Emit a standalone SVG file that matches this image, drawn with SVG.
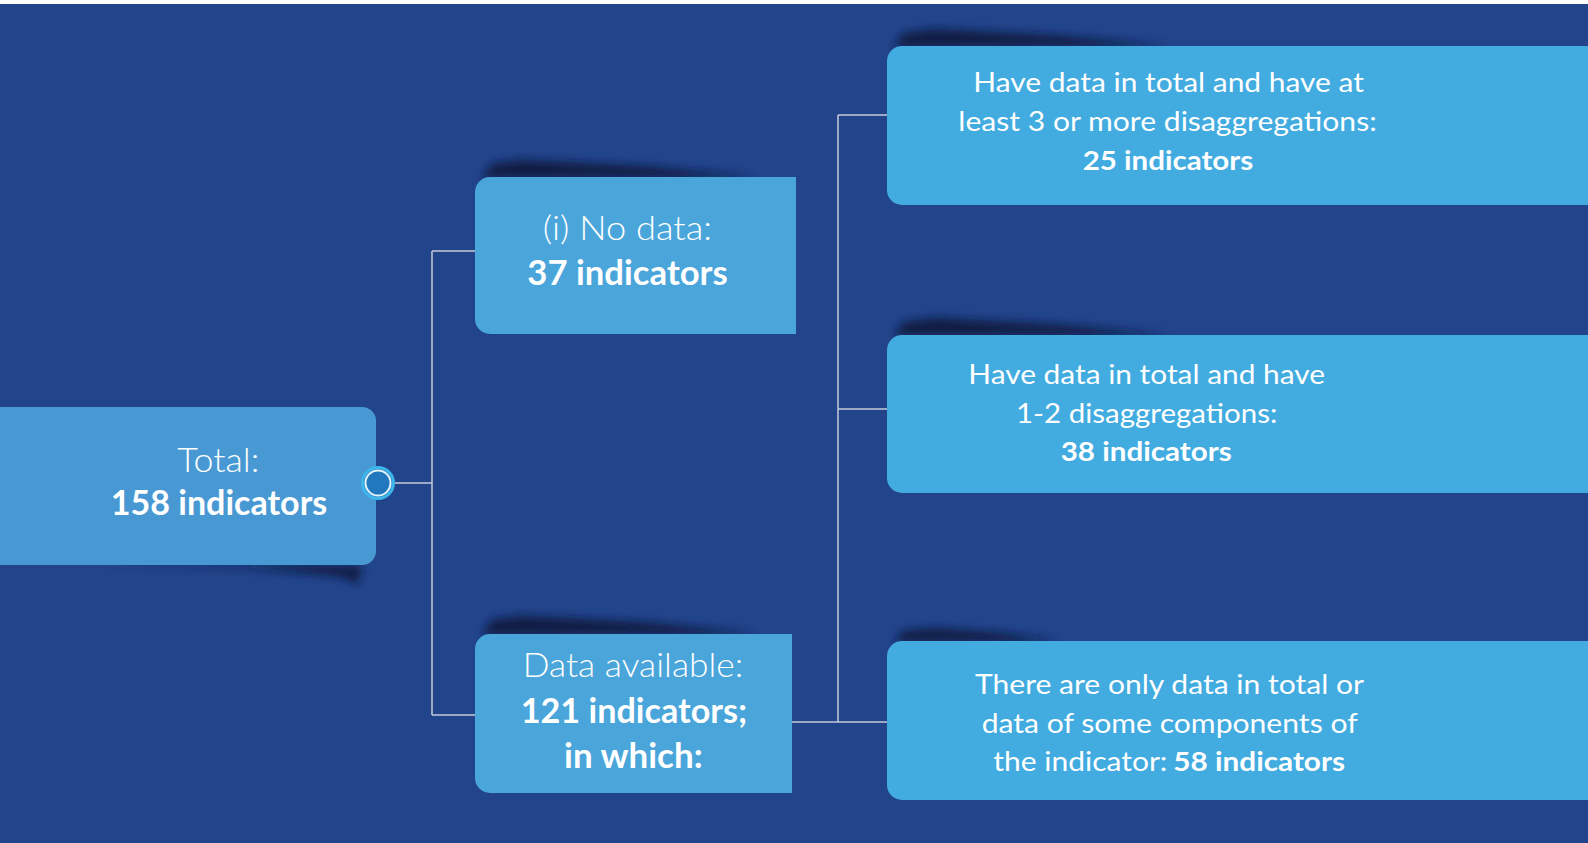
<svg xmlns="http://www.w3.org/2000/svg" width="1588" height="843" viewBox="0 0 1588 843">
  <defs>
    <filter id="sh" x="-20%" y="-200%" width="140%" height="500%">
      <feGaussianBlur stdDeviation="4"/>
    </filter>
    <style>
      .bg{fill:#22448a}
      .tot{fill:#4899d3}
      .mid{fill:#4aa5da}
      .leaf{fill:#42abdf}
      .shadow{fill:#0b1838;opacity:0.85;filter:url(#sh)}
      .conn{fill:none;stroke:#c3cadb;stroke-width:1.5}
      text{font-family:Lato,"Open Sans","Liberation Sans",sans-serif;fill:#ffffff}
      .big{font-size:34px}
      .sm{font-size:27px;font-weight:400}
      .lt{font-weight:300}
      .b{font-weight:700}
    </style>
  </defs>

  <rect x="0" y="0" width="1588" height="843" class="bg"/>
  <rect x="0" y="0" width="1588" height="4" fill="#ffffff"/>

  <g id="connectors">
    <path class="conn" d="M393,483 H432 M432,251 V715 M432,251 H475 M432,715 H475"/>
    <path class="conn" d="M792,722 H887 M838,115 V722 M838,115 H887 M838,409 H887"/>
  </g>

  <g id="node-total">
    <polygon class="shadow" points="100,565 250,568 340,576 358,584 362,566"/>
    <path class="tot" d="M-20,407 H362 A14,14 0 0 1 376,421 V551 A14,14 0 0 1 362,565 H-20 Z"/>
    <circle cx="378" cy="483" r="15.5" fill="#2a7bc2" stroke="#3cb6ea" stroke-width="3"/>
    <circle cx="378" cy="483" r="12.5" fill="#2278bd" stroke="#e2f5fd" stroke-width="2"/>
    <text class="big lt" x="177.3" y="471.7" textLength="82" lengthAdjust="spacingAndGlyphs">Total:</text>
    <text class="big b" x="110.7" y="515" textLength="216.6" lengthAdjust="spacingAndGlyphs">158 indicators</text>
  </g>

  <g id="node-nodata">
    <polygon class="shadow" points="482,178 492,164 520,160 640,166 760,177"/>
    <path class="mid" d="M490,177 H796 V334 H490 A15,15 0 0 1 475,319 V192 A15,15 0 0 1 490,177 Z"/>
    <text class="big lt" x="542.7" y="240" textLength="169.3" lengthAdjust="spacingAndGlyphs">(i) No data:</text>
    <text class="big b" x="527.3" y="285" textLength="200.4" lengthAdjust="spacingAndGlyphs">37 indicators</text>
  </g>

  <g id="node-available">
    <polygon class="shadow" points="482,635 492,620 520,616 640,622 760,634"/>
    <path class="mid" d="M490,634 H792 V793 H490 A15,15 0 0 1 475,778 V649 A15,15 0 0 1 490,634 Z"/>
    <text class="big lt" x="522.7" y="677.3" textLength="220.6" lengthAdjust="spacingAndGlyphs">Data available:</text>
    <text class="big b" x="520.7" y="722.7" textLength="226.6" lengthAdjust="spacingAndGlyphs">121 indicators;</text>
    <text class="big b" x="564" y="768.3" textLength="138.7" lengthAdjust="spacingAndGlyphs">in which:</text>
  </g>

  <g id="node-3plus">
    <polygon class="shadow" points="894,47 904,33 935,29 1060,36 1170,46"/>
    <path class="leaf" d="M902,46 H1588 V205 H902 A15,15 0 0 1 887,190 V61 A15,15 0 0 1 902,46 Z"/>
    <text class="sm" x="973.3" y="92.3" textLength="390.7" lengthAdjust="spacingAndGlyphs">Have data in total and have at</text>
    <text class="sm" x="958.3" y="131" textLength="418.4" lengthAdjust="spacingAndGlyphs">least 3 or more disaggregations:</text>
    <text class="sm b" x="1082.7" y="170" textLength="170.6" lengthAdjust="spacingAndGlyphs">25 indicators</text>
  </g>

  <g id="node-1to2">
    <polygon class="shadow" points="894,336 904,322 935,318 1060,325 1170,335"/>
    <path class="leaf" d="M902,335 H1588 V493 H902 A15,15 0 0 1 887,478 V350 A15,15 0 0 1 902,335 Z"/>
    <text class="sm" x="968.3" y="384.3" textLength="356.7" lengthAdjust="spacingAndGlyphs">Have data in total and have</text>
    <text class="sm" x="1016" y="422.7" textLength="261.3" lengthAdjust="spacingAndGlyphs">1-2 disaggregations:</text>
    <text class="sm b" x="1060.7" y="461" textLength="171" lengthAdjust="spacingAndGlyphs">38 indicators</text>
  </g>

  <g id="node-total-only">
    <polygon class="shadow" points="894,642 904,631 935,628 1000,633 1060,641"/>
    <path class="leaf" d="M902,641 H1588 V800 H902 A15,15 0 0 1 887,785 V656 A15,15 0 0 1 902,641 Z"/>
    <text class="sm" x="975" y="694.3" textLength="389" lengthAdjust="spacingAndGlyphs">There are only data in total or</text>
    <text class="sm" x="981.7" y="732.7" textLength="376" lengthAdjust="spacingAndGlyphs">data of some components of</text>
    <text class="sm" x="993.3" y="770.7" textLength="174" lengthAdjust="spacingAndGlyphs">the indicator:</text>
    <text class="sm b" x="1173.3" y="770.7" textLength="171.7" lengthAdjust="spacingAndGlyphs">58 indicators</text>
  </g>
</svg>
